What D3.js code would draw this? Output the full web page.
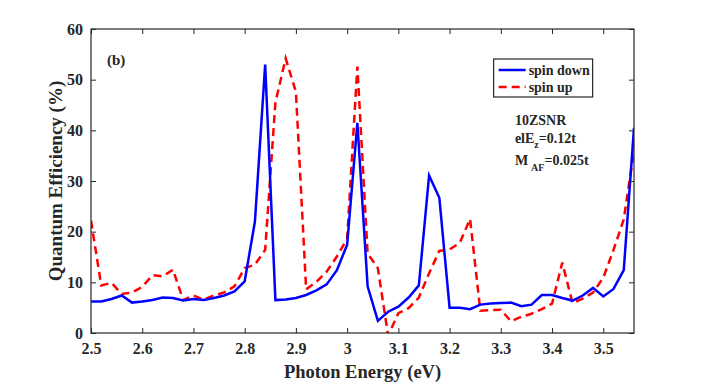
<!DOCTYPE html>
<meta charset="utf-8">
<script src="https://d3js.org/d3.v7.min.js"></script>
<style>
  body { margin: 0; background: #fff; }
  text { font-family: "Liberation Serif", "Times New Roman", serif; font-weight: bold; fill: #262626; }
</style>
<div id="chart"></div>
<script>
// photon energy grid (eV)
const energy = [2.50,2.52,2.54,2.56,2.58,2.60,2.62,2.64,2.66,2.68,2.70,2.72,2.74,2.76,2.78,2.80,
  2.82,2.84,2.86,2.88,2.90,2.92,2.94,2.96,2.98,3.00,3.02,3.04,3.06,3.08,3.10,3.12,3.14,3.16,3.18,
  3.20,3.22,3.24,3.26,3.28,3.30,3.32,3.34,3.36,3.38,3.40,3.42,3.44,3.46,3.48,3.50,3.52,3.54,3.56];

const spinDown = [6.2,6.2,6.7,7.4,6.0,6.2,6.5,7.0,6.9,6.4,6.7,6.5,6.9,7.4,8.2,10.2,
  22.0,53.0,6.5,6.6,6.9,7.5,8.4,9.6,12.4,17.4,41.5,9.2,2.4,4.2,5.2,7.0,9.4,31.1,26.7,
  5.0,5.0,4.7,5.6,5.8,5.9,6.0,5.3,5.6,7.5,7.5,6.9,6.4,7.4,8.9,7.2,8.7,12.4,40.5];

const spinUp = [22.2,9.4,9.9,7.7,8.0,9.1,11.4,11.2,12.5,6.5,7.4,6.6,7.4,8.0,9.2,12.8,
  13.5,16.4,45.5,54.2,47.6,8.6,10.1,12.1,15.1,18.6,52.6,15.7,12.8,-0.5,3.9,4.9,7.0,11.8,16.2,
  16.5,17.8,22.5,4.4,4.5,4.6,2.3,3.2,3.8,4.7,5.8,13.9,5.9,6.8,8.0,10.9,16.4,22.4,36.0];

const xTicks = [2.5,2.6,2.7,2.8,2.9,3.0,3.1,3.2,3.3,3.4,3.5];
const yTicks = [0,10,20,30,40,50,60];

const margin = {top: 29, right: 67, bottom: 49, left: 91},
    width = 701 - margin.left - margin.right,
    height = 382 - margin.top - margin.bottom;

const svg = d3.select("#chart")
  .append("svg")
    .attr("width", 701)
    .attr("height", 382)
  .append("g")
    .attr("transform", `translate(${margin.left}, ${margin.top})`);

const x = d3.scaleLinear().domain([2.5, 3.56]).range([0, width]);
const y = d3.scaleLinear().domain([0, 60]).range([height, 0]);

svg.append("clipPath").attr("id", "clip")
  .append("rect").attr("width", width).attr("height", height);

// lines
const line = series => d3.line()
  .x((d, i) => x(energy[i]))
  .y(d => y(d))(series);

const plot = svg.append("g").attr("clip-path", "url(#clip)");
plot.append("path")
  .attr("d", line(spinUp))
  .attr("fill", "none")
  .attr("stroke", "#ff0000")
  .attr("stroke-width", 2.5)
  .attr("stroke-dasharray", "8,5");
plot.append("path")
  .attr("d", line(spinDown))
  .attr("fill", "none")
  .attr("stroke", "#0000ff")
  .attr("stroke-width", 2.5);

// axes with inward ticks on all four sides
const fmt = d => d3.format("")(d);
const axisStyle = g => {
  g.select(".domain").remove();
  g.selectAll("line").attr("stroke", "#262626");
  g.selectAll("text").style("font-size", "16px").attr("fill", "#262626");
};
svg.append("g")
  .attr("transform", `translate(0, ${height})`)
  .call(d3.axisBottom(x).tickValues(xTicks).tickFormat(fmt).tickSizeInner(-5).tickSizeOuter(0).tickPadding(10))
  .call(axisStyle);
svg.append("g")
  .call(d3.axisTop(x).tickValues(xTicks).tickFormat("").tickSizeInner(-5).tickSizeOuter(0))
  .call(axisStyle);
svg.append("g")
  .call(d3.axisLeft(y).tickValues(yTicks).tickSizeInner(-5).tickSizeOuter(0).tickPadding(8))
  .call(axisStyle);
svg.append("g")
  .attr("transform", `translate(${width}, 0)`)
  .call(d3.axisRight(y).tickValues(yTicks).tickFormat("").tickSizeInner(-5).tickSizeOuter(0))
  .call(axisStyle);

svg.append("rect")
  .attr("width", width).attr("height", height)
  .attr("fill", "none").attr("stroke", "#262626").attr("stroke-width", 1.2);

// axis labels
svg.append("text")
  .attr("x", width / 2).attr("y", height + 45)
  .attr("text-anchor", "middle").style("font-size", "18.5px")
  .text("Photon Energy (eV)");
svg.append("text")
  .attr("transform", `translate(-29, ${height / 2}) rotate(-90)`)
  .attr("text-anchor", "middle").style("font-size", "19px")
  .text("Quantum Efficiency (%)");

// panel tag
svg.append("text").attr("x", 16).attr("y", 36).style("font-size", "15px").text("(b)");

// legend
const lg = svg.append("g").attr("transform", `translate(${x(3.286)}, 30)`);
lg.append("rect").attr("width", 99).attr("height", 38)
  .attr("fill", "#fff").attr("stroke", "#262626").attr("stroke-width", 1.2);
lg.append("line").attr("x1", 5).attr("x2", 32).attr("y1", 11).attr("y2", 11)
  .attr("stroke", "#0000ff").attr("stroke-width", 2.5);
lg.append("line").attr("x1", 5).attr("x2", 32).attr("y1", 28).attr("y2", 28)
  .attr("stroke", "#ff0000").attr("stroke-width", 2.5).attr("stroke-dasharray", "8,5");
lg.append("text").attr("x", 35).attr("y", 16).style("font-size", "14px").text("spin down");
lg.append("text").attr("x", 35).attr("y", 33).style("font-size", "14px").text("spin up");

// parameters
const note = svg.append("g").attr("transform", `translate(${x(3.3275)}, 0)`);
note.append("text").attr("y", 96).style("font-size", "14px").text("10ZSNR");
const t2 = note.append("text").attr("y", 114).style("font-size", "14px");
t2.append("tspan").text("elE");
t2.append("tspan").attr("dy", 5).style("font-size", "10px").text("z");
t2.append("tspan").attr("dy", -5).text("=0.12t");
const t3 = note.append("text").attr("y", 136).style("font-size", "14px");
t3.append("tspan").text("M");
t3.append("tspan").attr("dy", 6).attr("dx", 3).style("font-size", "10px").text("AF");
t3.append("tspan").attr("dy", -6).text("=0.025t");
</script>
